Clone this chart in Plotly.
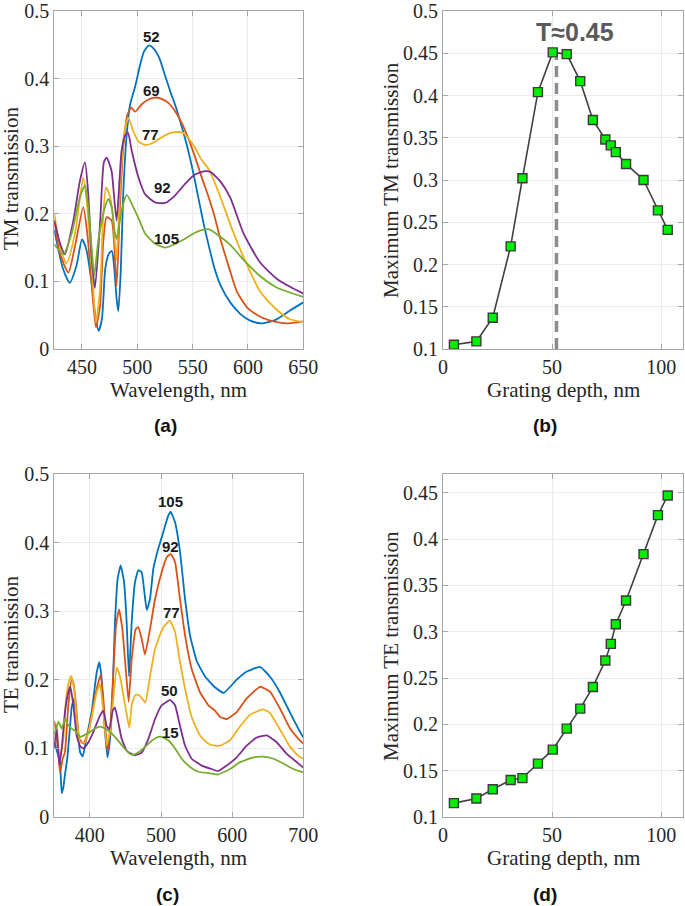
import plotly.graph_objects as go

# ---------------- Panel (a): TM transmission spectra ----------------
tm52_wl = [425, 433, 439, 445, 450, 454, 458.7, 461.7, 465, 468, 471, 474, 477, 479, 481.3, 482.8, 485, 487.3, 490.4, 493.4, 498, 502.5, 506, 510.5, 515, 520, 525, 530, 534, 540, 545, 550, 555, 560, 565, 570, 575, 584, 593, 602, 612, 625, 638, 650]
tm52_t = [0.176, 0.118, 0.098, 0.123, 0.162, 0.147, 0.098, 0.054, 0.027, 0.044, 0.118, 0.14, 0.145, 0.123, 0.074, 0.056, 0.113, 0.23, 0.317, 0.361, 0.388, 0.42, 0.44, 0.449, 0.444, 0.43, 0.405, 0.38, 0.362, 0.33, 0.30, 0.265, 0.225, 0.185, 0.15, 0.118, 0.095, 0.069, 0.052, 0.042, 0.038, 0.043, 0.057, 0.069]

tm69_wl = [425, 430, 437.7, 443.7, 451.2, 454.8, 458.7, 462.6, 466.3, 469.3, 472.3, 476.8, 479.2, 481.3, 484.3, 487.3, 491, 494.5, 498, 504, 510, 516, 522, 528, 534, 540, 546, 552, 558, 565, 570, 575, 583, 590, 600, 612, 625, 635, 650]
tm69_t = [0.19, 0.142, 0.113, 0.152, 0.21, 0.171, 0.098, 0.032, 0.063, 0.16, 0.195, 0.19, 0.152, 0.093, 0.21, 0.298, 0.346, 0.357, 0.351, 0.362, 0.369, 0.372, 0.370, 0.364, 0.352, 0.335, 0.312, 0.285, 0.255, 0.222, 0.195, 0.163, 0.12, 0.085, 0.06, 0.047, 0.04, 0.038, 0.041]

tm77_wl = [425, 431.6, 436.2, 443.7, 451.2, 454.8, 458.7, 462.6, 466.3, 469.3, 471.7, 474.7, 477.1, 479.2, 481.3, 484.3, 487.9, 491.9, 496.4, 501, 507, 513, 519, 525, 531, 537, 541, 546, 552, 558, 565, 575, 585, 595, 611, 626, 638, 650]
tm77_t = [0.2, 0.142, 0.127, 0.171, 0.254, 0.21, 0.127, 0.039, 0.088, 0.2, 0.239, 0.229, 0.21, 0.171, 0.132, 0.234, 0.317, 0.342, 0.322, 0.307, 0.302, 0.304, 0.31, 0.316, 0.32, 0.321, 0.32, 0.312, 0.298, 0.28, 0.265, 0.225, 0.18, 0.14, 0.085, 0.058, 0.044, 0.04]

tm92_wl = [425, 430, 434.6, 442.2, 448.2, 452.7, 455.7, 458.7, 461.7, 466.3, 469.9, 472.3, 476.8, 478.3, 481.3, 483.7, 485.8, 488.8, 491.5, 495, 501, 507, 516, 525, 534, 543, 552, 561, 566, 575, 584, 596, 611, 626, 638, 650]
tm92_t = [0.19, 0.157, 0.14, 0.19, 0.249, 0.276, 0.229, 0.137, 0.09, 0.185, 0.277, 0.283, 0.263, 0.239, 0.19, 0.244, 0.293, 0.315, 0.32, 0.293, 0.254, 0.229, 0.217, 0.216, 0.227, 0.244, 0.258, 0.263, 0.262, 0.248, 0.224, 0.171, 0.128, 0.104, 0.092, 0.082]

tm105_wl = [425, 433.2, 440.7, 448.2, 452.7, 455.7, 458.7, 461.1, 464.8, 470.8, 473.8, 476.8, 479.8, 481.3, 484.3, 487.3, 490.4, 496.4, 502, 507, 516, 525, 534, 543, 552, 558, 565, 575, 584, 596, 611, 626, 650]
tm105_t = [0.155, 0.14, 0.171, 0.225, 0.242, 0.21, 0.151, 0.109, 0.161, 0.21, 0.222, 0.21, 0.171, 0.163, 0.19, 0.215, 0.228, 0.21, 0.19, 0.171, 0.156, 0.15, 0.155, 0.163, 0.172, 0.176, 0.177, 0.166, 0.154, 0.132, 0.108, 0.091, 0.077]

tm_labels = ["52", "69", "77", "92", "105"]
tm_label_x = [513, 513, 511.5, 522.6, 526]
tm_label_y = [0.4625, 0.383, 0.318, 0.2385, 0.163]

# ---------------- Panel (b) & (d): maxima vs depth ----------------
depth = [5, 15.3, 22.8, 31, 36.4, 43.5, 50.3, 56.7, 62.9, 68.7, 74.4, 76.9, 79.2, 83.9, 91.9, 98.5, 103]
max_tm = [0.105, 0.109, 0.137, 0.2215, 0.302, 0.404, 0.451, 0.449, 0.417, 0.371, 0.348, 0.341, 0.333, 0.319, 0.300, 0.264, 0.241]
max_te = [0.115, 0.120, 0.130, 0.140, 0.142, 0.1576, 0.1727, 0.1954, 0.217, 0.2404, 0.2689, 0.2869, 0.3081, 0.3337, 0.3838, 0.4259, 0.4471]
peak_depth = [52, 52]
peak_line = [0.1, 0.445]
peak_text = "T≈0.45"

# ---------------- Panel (c): TE transmission spectra ----------------
te105_wl = [350, 354, 358, 360.4, 362.7, 365, 368.3, 372, 374.4, 377.7, 381.4, 386.1, 389.9, 393.2, 397.9, 402.5, 409.6, 413.3, 416.6, 419.9, 424.6, 428.3, 432.1, 435.3, 439.1, 443.3, 448, 451.7, 455, 458.8, 463.5, 468.1, 472.8, 476.6, 480, 484.5, 489.2, 496.3, 503.3, 510.3, 513.6, 519.7, 526.7, 533.8, 540.8, 550, 562, 575, 588, 606, 620, 639, 653, 667, 681, 693, 700]
te105_t = [0.11, 0.095, 0.08, 0.035, 0.043, 0.062, 0.086, 0.13, 0.16, 0.172, 0.143, 0.095, 0.088, 0.104, 0.129, 0.153, 0.211, 0.226, 0.201, 0.143, 0.087, 0.114, 0.187, 0.284, 0.348, 0.367, 0.343, 0.284, 0.205, 0.284, 0.343, 0.36, 0.357, 0.328, 0.302, 0.318, 0.362, 0.392, 0.416, 0.44, 0.445, 0.43, 0.387, 0.318, 0.265, 0.228, 0.205, 0.19, 0.181, 0.2, 0.212, 0.219, 0.205, 0.182, 0.153, 0.129, 0.116]

te92_wl = [350, 353, 356, 358, 361.8, 365, 369.7, 374.4, 376.8, 380.5, 385.2, 390.8, 397.9, 404.9, 411.9, 415.2, 419, 422.7, 425, 429.2, 433, 436.7, 441, 445.6, 450.8, 454.5, 458.8, 464.4, 468.1, 472.8, 477.5, 484.5, 491.6, 500.9, 508, 513.6, 519.7, 526.7, 533.8, 543.1, 554.8, 566.6, 576, 583, 592.3, 606.4, 620.4, 639.2, 653.2, 667.3, 681.4, 693.1, 700]
te92_t = [0.14, 0.12, 0.09, 0.065, 0.085, 0.095, 0.163, 0.2, 0.196, 0.163, 0.114, 0.107, 0.124, 0.163, 0.197, 0.207, 0.172, 0.119, 0.095, 0.138, 0.211, 0.279, 0.303, 0.275, 0.211, 0.168, 0.23, 0.274, 0.277, 0.26, 0.237, 0.274, 0.318, 0.357, 0.379, 0.384, 0.372, 0.318, 0.265, 0.216, 0.182, 0.163, 0.155, 0.146, 0.143, 0.153, 0.173, 0.19, 0.183, 0.158, 0.129, 0.114, 0.107]

te77_wl = [350, 353.3, 356, 358, 362.7, 366.5, 371.1, 374, 377.7, 381.4, 386.1, 393.2, 400.2, 409.6, 414.2, 419, 423.6, 428.3, 433, 437.7, 442.4, 447, 451.7, 455.5, 459, 464, 469, 474, 478, 484.5, 491.6, 500.9, 508, 512.7, 519.7, 526.7, 533.8, 543.1, 554.8, 566.6, 576, 583, 597, 611, 625, 643, 653, 667, 681, 693, 700]
te77_t = [0.12, 0.133, 0.1, 0.085, 0.114, 0.172, 0.2, 0.206, 0.187, 0.143, 0.109, 0.109, 0.133, 0.182, 0.194, 0.153, 0.105, 0.124, 0.172, 0.218, 0.205, 0.178, 0.15, 0.13, 0.165, 0.178, 0.178, 0.172, 0.167, 0.205, 0.245, 0.272, 0.283, 0.286, 0.27, 0.226, 0.187, 0.146, 0.119, 0.107, 0.104, 0.104, 0.112, 0.132, 0.149, 0.157, 0.152, 0.128, 0.103, 0.089, 0.085]

te50_wl = [350, 353, 357, 360.4, 365, 369.7, 372.5, 376.8, 381.4, 386, 390.8, 397.9, 404.9, 414.2, 419, 423.6, 427.4, 432.1, 435.3, 440, 444.7, 451.7, 458.8, 463.5, 472.8, 482.2, 491.6, 500.9, 508, 512.7, 519.7, 526.7, 533.8, 543.1, 557.2, 571.2, 580, 592.3, 606.4, 620.4, 634.5, 648.6, 662.6, 676.7, 690.7, 700]
te50_t = [0.1, 0.133, 0.076, 0.1, 0.153, 0.182, 0.19, 0.163, 0.119, 0.104, 0.1, 0.109, 0.124, 0.148, 0.155, 0.133, 0.128, 0.155, 0.16, 0.138, 0.114, 0.097, 0.092, 0.09, 0.094, 0.114, 0.143, 0.163, 0.168, 0.171, 0.163, 0.133, 0.104, 0.085, 0.075, 0.07, 0.067, 0.075, 0.087, 0.104, 0.116, 0.119, 0.109, 0.092, 0.08, 0.072]

te15_wl = [350, 355.7, 360.4, 365, 369.7, 374.4, 379.1, 386.1, 393.2, 400.2, 407.2, 414.2, 421.3, 428.3, 437.7, 447.1, 456.4, 462, 468, 475.2, 484.5, 493.9, 501, 510.3, 519.7, 529.1, 540.8, 552.5, 566.6, 580, 597, 611, 629.8, 643.9, 658, 672, 686, 700]
te15_t = [0.12, 0.139, 0.129, 0.143, 0.134, 0.129, 0.126, 0.117, 0.12, 0.124, 0.129, 0.132, 0.129, 0.124, 0.114, 0.102, 0.092, 0.091, 0.094, 0.1, 0.109, 0.116, 0.117, 0.112, 0.1, 0.085, 0.073, 0.066, 0.064, 0.062, 0.07, 0.08, 0.087, 0.088, 0.085, 0.078, 0.07, 0.065]

te_labels = ["105", "92", "77", "50", "15"]
te_label_x = [513.5, 513.5, 515, 512.6, 513.5]
te_label_y = [0.46, 0.394, 0.299, 0.184, 0.124]

colors = ["#0072BD", "#D95319", "#EDB120", "#7E2F8E", "#77AC30"]

W, H = 685, 906
def px_x(p):
    return p / W
def px_y(p):
    return 1 - p / H

fig = go.Figure()

tm_series = [(tm52_wl, tm52_t), (tm69_wl, tm69_t), (tm77_wl, tm77_t), (tm92_wl, tm92_t), (tm105_wl, tm105_t)]
for (wl, t), c in zip(tm_series, colors):
    fig.add_trace(go.Scatter(x=wl, y=t, mode="lines", xaxis="x", yaxis="y",
                             line=dict(color=c, width=1.8, shape="spline", smoothing=0.6),
                             showlegend=False, hoverinfo="skip"))

te_series = [(te105_wl, te105_t), (te92_wl, te92_t), (te77_wl, te77_t), (te50_wl, te50_t), (te15_wl, te15_t)]
for (wl, t), c in zip(te_series, colors):
    fig.add_trace(go.Scatter(x=wl, y=t, mode="lines", xaxis="x3", yaxis="y3",
                             line=dict(color=c, width=1.8, shape="spline", smoothing=0.4),
                             showlegend=False, hoverinfo="skip"))

fig.add_trace(go.Scatter(x=peak_depth, y=peak_line, mode="lines", xaxis="x2", yaxis="y2",
                         line=dict(color="#8c8c8c", width=3.5, dash="11px,6px"),
                         showlegend=False, hoverinfo="skip"))

for xa, ya, vals in [("x2", "y2", max_tm), ("x4", "y4", max_te)]:
    fig.add_trace(go.Scatter(x=depth, y=vals, mode="lines+markers", xaxis=xa, yaxis=ya,
                             line=dict(color="#404040", width=1.6),
                             marker=dict(symbol="square", size=9, color="#00ee00",
                                         line=dict(color="#3a3a3a", width=1.4)),
                             showlegend=False, hoverinfo="skip"))

tick_font = dict(family="Liberation Serif, Times New Roman, serif", size=20, color="#262626")
frame = "#a6a6a6"

def ax(domain, rng, dtick, tick0=None, anchor=None):
    d = dict(domain=domain, range=rng, dtick=dtick, showgrid=True, gridcolor="#ebebeb",
             gridwidth=1, zeroline=False, showline=True, linecolor=frame, linewidth=1,
             mirror="ticks", ticks="inside", ticklen=5, tickcolor=frame, tickfont=tick_font,
             anchor=anchor, fixedrange=True, automargin=False, ticklabeloverflow="allow")
    if tick0 is not None:
        d["tick0"] = tick0
    return d

xa_dom = [px_x(54.3), px_x(303.3)]
xb_dom = [px_x(443), px_x(683)]
top_dom = [px_y(349), px_y(11)]
bot_dom = [px_y(817), px_y(474.3)]

fig.update_layout(
    width=W, height=H, margin=dict(l=0, r=0, t=0, b=0, pad=0),
    paper_bgcolor="white", plot_bgcolor="white",
    xaxis=ax(xa_dom, [425, 650], 50, 450, "y"),
    yaxis=ax(top_dom, [0, 0.5], 0.1, 0, "x"),
    xaxis2=ax(xb_dom, [0, 110], 50, 0, "y2"),
    yaxis2=ax(top_dom, [0.1, 0.5], 0.05, 0.1, "x2"),
    xaxis3=ax(xa_dom, [350, 700], 100, 400, "y3"),
    yaxis3=ax(bot_dom, [0, 0.5], 0.1, 0, "x3"),
    xaxis4=ax(xb_dom, [0, 110], 50, 0, "y4"),
    yaxis4=ax(bot_dom, [0.1, 0.47], 0.05, 0.1, "x4"),
)

ann = []
title_font = dict(family="Liberation Serif, Times New Roman, serif", size=21, color="#262626")
for cx, cy, txt in [(178.8, 390, "Wavelength, nm"), (563, 390, "Grating depth, nm"),
                    (178.8, 858, "Wavelength, nm"), (563, 858, "Grating depth, nm")]:
    ann.append(dict(x=px_x(cx), y=px_y(cy), xref="paper", yref="paper", text=txt,
                    showarrow=False, font=title_font, xanchor="center", yanchor="middle"))
for cx, cy, txt in [(11, 179, "TM transmission"), (391, 180, "Maximum TM transmission"),
                    (11, 644, "TE transmission"), (391, 646, "Maximum TE transmission")]:
    ann.append(dict(x=px_x(cx), y=px_y(cy), xref="paper", yref="paper", text=txt,
                    showarrow=False, font=title_font, textangle=-90,
                    xanchor="center", yanchor="middle"))
panel_font = dict(family="Liberation Sans, Arial, sans-serif", size=19, color="#111111")
for cx, cy, txt in [(165, 426, "<b>(a)</b>"), (545, 426, "<b>(b)</b>"),
                    (167, 894, "<b>(c)</b>"), (545, 894, "<b>(d)</b>")]:
    ann.append(dict(x=px_x(cx), y=px_y(cy), xref="paper", yref="paper", text=txt,
                    showarrow=False, font=panel_font, xanchor="center", yanchor="middle"))
lab_font = dict(family="Liberation Sans, Arial, sans-serif", size=15, color="#1a1a1a")
for t, x, y in zip(tm_labels, tm_label_x, tm_label_y):
    ann.append(dict(x=x, y=y, xref="x", yref="y", text="<b>" + t + "</b>", showarrow=False,
                    font=lab_font, xanchor="center", yanchor="middle"))
for t, x, y in zip(te_labels, te_label_x, te_label_y):
    ann.append(dict(x=x, y=y, xref="x3", yref="y3", text="<b>" + t + "</b>", showarrow=False,
                    font=lab_font, xanchor="center", yanchor="middle"))
ann.append(dict(x=60.3, y=0.475, xref="x2", yref="y2", text="<b>" + peak_text + "</b>",
                showarrow=False, font=dict(family="Liberation Sans, Arial, sans-serif", size=25,
                                           color="#5a5a5a"),
                xanchor="center", yanchor="middle"))
fig.update_layout(annotations=ann)

fig.write_html("out.html", config={"displayModeBar": False},
               post_script="document.body.style.margin='0';document.body.style.overflow='hidden';")
